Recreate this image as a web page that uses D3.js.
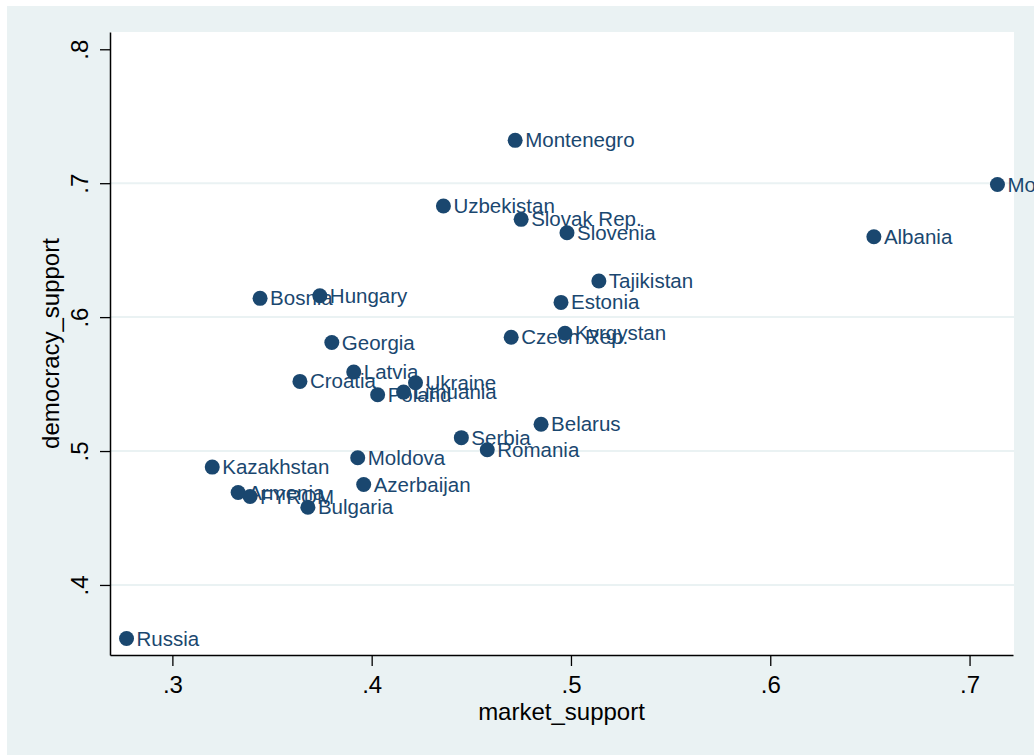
<!DOCTYPE html>
<html>
<head>
<meta charset="utf-8">
<script src="https://cdn.jsdelivr.net/npm/d3@7"></script>
<style>
  body { margin: 0; background: #fff; }
  svg text { font-family: "Liberation Sans", Arial, sans-serif; }
</style>
</head>
<body>
<div id="chart"></div>
<script>
const countries = ["Russia", "Kazakhstan", "Armenia", "FYROM", "Bosnia", "Croatia", "Bulgaria",
  "Hungary", "Georgia", "Latvia", "Moldova", "Azerbaijan", "Poland", "Lithuania", "Ukraine",
  "Uzbekistan", "Serbia", "Romania", "Czech Rep.", "Montenegro", "Slovak Rep.", "Belarus",
  "Estonia", "Kyrgystan", "Slovenia", "Tajikistan", "Albania", "Mongolia"];
const marketSupport = [0.277, 0.320, 0.333, 0.339, 0.344, 0.364, 0.368,
  0.374, 0.380, 0.391, 0.393, 0.396, 0.403, 0.416, 0.422,
  0.436, 0.445, 0.458, 0.470, 0.472, 0.475, 0.485,
  0.495, 0.497, 0.498, 0.514, 0.652, 0.714];
const democracySupport = [0.360, 0.488, 0.469, 0.466, 0.614, 0.552, 0.458,
  0.616, 0.581, 0.559, 0.495, 0.475, 0.542, 0.544, 0.551,
  0.683, 0.510, 0.501, 0.585, 0.732, 0.673, 0.520,
  0.611, 0.588, 0.663, 0.627, 0.660, 0.699];
const xTicks = [0.3, 0.4, 0.5, 0.6, 0.7];
const yTicks = [0.4, 0.5, 0.6, 0.7, 0.8];

const W = 1034, H = 755;
const plot = { left: 110, right: 1014, top: 32, bottom: 655 };
const navy = "#1a476f";
const bgBlue = "#eaf2f3";

const data = countries.map((c, i) => ({ name: c, x: marketSupport[i], y: democracySupport[i] }));

const svg = d3.select("#chart").append("svg")
    .attr("width", W)
    .attr("height", H);

svg.append("rect")
    .attr("x", 7).attr("y", 6)
    .attr("width", W - 7).attr("height", H - 6)
    .attr("fill", bgBlue);

svg.append("rect")
    .attr("x", plot.left).attr("y", plot.top)
    .attr("width", plot.right - plot.left).attr("height", plot.bottom - plot.top)
    .attr("fill", "#fff");

const xScale = d3.scaleLinear()
    .domain([0.2687, 0.7218])
    .range([plot.left, 1013]);

const yScale = d3.scaleLinear()
    .domain([0.3477, 0.8129])
    .range([plot.bottom, plot.top]);

const fmt = d => d3.format(".1f")(d).replace(/^0/, "");

// horizontal grid lines
svg.append("g")
  .selectAll("line")
  .data(yTicks.filter(t => t < 0.8))
  .join("line")
    .attr("x1", plot.left).attr("x2", plot.right)
    .attr("y1", d => yScale(d)).attr("y2", d => yScale(d))
    .attr("stroke", bgBlue)
    .attr("stroke-width", 2);

const pts = svg.append("g");

pts.selectAll("circle")
  .data(data)
  .join("circle")
    .attr("cx", d => xScale(d.x))
    .attr("cy", d => yScale(d.y))
    .attr("r", 7.5)
    .attr("fill", navy);

pts.selectAll("text")
  .data(data)
  .join("text")
    .attr("x", d => xScale(d.x) + 10)
    .attr("y", d => yScale(d.y) + 7)
    .attr("fill", navy)
    .attr("font-size", 20.5)
    .text(d => d.name);

// x axis
const xAxis = svg.append("g")
    .attr("transform", `translate(0,${plot.bottom})`)
    .call(d3.axisBottom(xScale).tickValues(xTicks).tickFormat(fmt).tickSize(11).tickSizeOuter(0));
xAxis.select(".domain").attr("stroke", "#000").attr("stroke-width", 1.5);
xAxis.selectAll(".tick line").attr("stroke", "#000").attr("stroke-width", 1.3);
xAxis.selectAll(".tick text")
    .attr("y", 38).attr("dy", 0)
    .attr("font-size", 24)
    .attr("fill", "#000");

// y axis
const yAxis = svg.append("g")
    .attr("transform", `translate(${plot.left},0)`)
    .call(d3.axisLeft(yScale).tickValues(yTicks).tickFormat(fmt).tickSize(10).tickSizeOuter(0));
yAxis.select(".domain").attr("stroke", "#000").attr("stroke-width", 1.5);
yAxis.selectAll(".tick line").attr("stroke", "#000").attr("stroke-width", 1.3);
yAxis.selectAll(".tick text")
    .attr("transform", "rotate(-90)")
    .attr("x", 0).attr("y", -22).attr("dy", 0)
    .attr("text-anchor", "middle")
    .attr("font-size", 24)
    .attr("fill", "#000");

// axis titles
svg.append("text")
    .attr("x", (plot.left + 1013) / 2)
    .attr("y", 720)
    .attr("text-anchor", "middle")
    .attr("font-size", 24)
    .attr("fill", "#000")
    .text("market_support");

svg.append("text")
    .attr("transform", `translate(59,${(plot.top + plot.bottom) / 2}) rotate(-90)`)
    .attr("text-anchor", "middle")
    .attr("font-size", 24)
    .attr("fill", "#000")
    .text("democracy_support");
</script>
</body>
</html>
